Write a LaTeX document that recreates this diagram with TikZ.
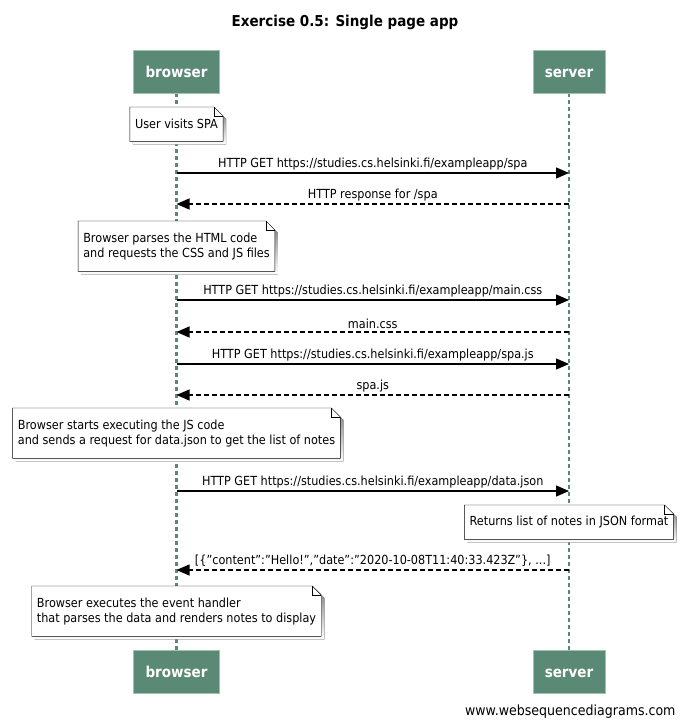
\documentclass[tikz,border=0pt]{standalone}
\usepackage{fontspec}
\setmainfont[FakeStretch=0.9]{DejaVu Sans}
\usetikzlibrary{arrows.meta,backgrounds,positioning}
\definecolor{actorfill}{RGB}{90,138,117}
\definecolor{actorline}{RGB}{160,192,176}
\definecolor{lifegreen}{RGB}{90,138,117}
\definecolor{shade}{RGB}{110,110,110}
\newcommand{\dq}{\symbol{34}}
\tikzset{
  actor/.style={draw=actorline, fill=actorfill, text=white, font=\bfseries\fontsize{15}{18}\selectfont, minimum height=43pt, inner xsep=12pt, text height=11.5pt, text depth=0pt},
  lifeline/.style={draw=lifegreen, line width=2.5pt, dash pattern=on 4pt off 3pt},
  note/.style={anchor=north, align=left, font=\fontsize{12.5}{15}\selectfont, inner xsep=5pt, minimum height=34pt},
  note2/.style={note, minimum height=50pt},
  msg/.style={-{Triangle[length=13pt,width=11pt]}, line width=1.3pt},
  reply/.style={msg, dash pattern=on 5pt off 3pt},
  msglabel/.style={above=1.5pt, font=\fontsize{12.5}{14}\selectfont, inner sep=1pt}
}
\begin{document}
\begin{tikzpicture}[x=1pt, y=-1pt]
\useasboundingbox (0,0) rectangle (687,727);
\node[font=\bfseries\fontsize{15}{18}\selectfont] (title) at (345,22) {Exercise 0.5: Single page app};
% participants
\node[actor] (btop) at (176.5,71.5) {browser};
\node[actor] (stop) at (569,71.5) {server};
\node[actor] (bbot) at (176.5,671.5) {browser};
\node[actor] (sbot) at (569,671.5) {server};
\node[anchor=east, font=\fontsize{14}{16}\selectfont] (footer) at (679,712) {www.websequencediagrams.com};
% notes
\node[note] (n1) at (176.5,107) {User visits SPA};
\node[note2] (n2) at (176.5,221) {Browser parses the HTML code\\and requests the CSS and JS files};
\node[note2] (n3) at (176.5,408) {Browser starts executing the JS code\\and sends a request for data.json to get the list of notes};
\node[note] (n4) at (569,505) {Returns list of notes in JSON format};
\node[note2] (n5) at (176.5,586) {Browser executes the event handler\\that parses the data and renders notes to display};
\begin{scope}[on background layer]
  \draw[lifeline] (btop) -- (bbot);
  \draw[lifeline] (stop) -- (sbot);
  \foreach \n in {n1,n2,n3,n4,n5} {
    \fill[shade] ([shift={(3pt,-3pt)}]\n.north west) -- ([shift={(-6pt,-3pt)}]\n.north east) -- ([shift={(3pt,-12pt)}]\n.north east) -- ([shift={(3pt,-3pt)}]\n.south east) -- ([shift={(3pt,-3pt)}]\n.south west) -- cycle;
    \draw[fill=white] (\n.north west) -- ([xshift=-9pt]\n.north east) -- ([yshift=-9pt]\n.north east) -- (\n.south east) -- (\n.south west) -- cycle;
    \draw ([xshift=-9pt]\n.north east) |- ([yshift=-9pt]\n.north east);
  }
\end{scope}
% messages
\foreach \i/\y in {1/173,2/204,3/300,4/332,5/364,6/395,7/491,8/570} {
  \coordinate (b\i) at (176.5,\y);
  \coordinate (s\i) at (569,\y);
}
\draw[msg] (b1) -- node[msglabel] {HTTP GET https://studies.cs.helsinki.fi/exampleapp/spa} (s1);
\draw[reply] (s2) -- node[msglabel] {HTTP response for /spa} (b2);
\draw[msg] (b3) -- node[msglabel] {HTTP GET https://studies.cs.helsinki.fi/exampleapp/main.css} (s3);
\draw[reply] (s4) -- node[msglabel] {main.css} (b4);
\draw[msg] (b5) -- node[msglabel] {HTTP GET https://studies.cs.helsinki.fi/exampleapp/spa.js} (s5);
\draw[reply] (s6) -- node[msglabel] {spa.js} (b6);
\draw[msg] (b7) -- node[msglabel] {HTTP GET https://studies.cs.helsinki.fi/exampleapp/data.json} (s7);
\draw[reply] (s8) -- node[msglabel] {[\{\dq content\dq:\dq Hello!\dq,\dq date\dq:\dq 2020-10-08T11:40:33.423Z\dq\}, ...]} (b8);
\end{tikzpicture}
\end{document}
